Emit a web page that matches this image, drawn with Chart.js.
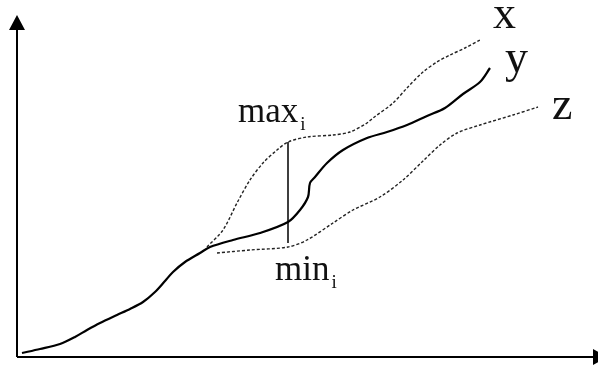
<!DOCTYPE html>
<html>
<head>
<meta charset="utf-8">
<script src="https://cdn.jsdelivr.net/npm/chart.js@4/dist/chart.umd.min.js"></script>
<style>
  html, body { margin: 0; padding: 0; background: #fff; }
  #wrap { width: 598px; height: 370px; }
</style>
</head>
<body>
<div id="wrap"><canvas id="bandChart" width="598" height="370"></canvas></div>
<script>
// values, origin at the corner of the axes
const yX = [5, 23, 43, 58, 70, 83, 100, 113, 126, 138, 148, 156, 168, 183, 193, 216, 243, 271, 283, 291, 293, 298, 310, 326, 350, 370, 390, 410, 428, 446, 463, 473];
const yY = [4, 8, 13, 20, 27, 34, 42, 48, 55, 65, 76, 85, 95, 104, 110, 117, 124, 135, 147, 160, 174, 180, 194, 207, 219, 225, 232, 241, 249, 263, 275, 289];

const upperX = [190, 206, 220, 233, 246, 260, 271, 290, 316, 333, 350, 356, 376, 390, 406, 420, 433, 448, 463];
const upperY = [110, 127, 154, 177, 194, 207, 215, 220, 222, 225, 234, 239, 254, 269, 285, 295, 302, 309, 317];

const lowerX = [200, 233, 271, 290, 316, 336, 363, 386, 406, 423, 440, 463, 496, 521];
const lowerY = [104, 107, 110, 117, 134, 147, 160, 177, 196, 212, 224, 232, 242, 250];

// the i-th step: max on the upper curve, min on the lower one
const stepX = 271;
const stepMax = 215;
const stepMin = 114;

// axis extents
const xAxisEnd = 591;
const yAxisEnd = 342;

const curveLabels = [
  { text: "x", x: 476, y: 329 },
  { text: "y", x: 488, y: 285 },
  { text: "z", x: 535, y: 238 },
];
const stepLabels = [
  { text: "max", sub: "i", x: 221, y: 235 },
  { text: "min", sub: "i", x: 258, y: 77 },
];

function toPoints(xs, ys) {
  return xs.map((x, i) => ({ x: x, y: ys[i] }));
}

const arrowPlugin = {
  id: "arrows",
  afterDatasetsDraw(chart) {
    const { ctx, scales } = chart;
    const x0 = scales.x.getPixelForValue(0);
    const y0 = scales.y.getPixelForValue(0);
    const xt = scales.x.getPixelForValue(xAxisEnd);
    const yt = scales.y.getPixelForValue(yAxisEnd);
    ctx.save();
    ctx.fillStyle = "#000";
    // arrow on y axis
    ctx.beginPath();
    ctx.moveTo(x0, yt);
    ctx.lineTo(x0 - 8, yt + 15);
    ctx.lineTo(x0 + 8, yt + 15);
    ctx.closePath();
    ctx.fill();
    // arrow on x axis
    ctx.beginPath();
    ctx.moveTo(xt, y0);
    ctx.lineTo(xt - 15, y0 - 8);
    ctx.lineTo(xt - 15, y0 + 8);
    ctx.closePath();
    ctx.fill();

    ctx.fillStyle = "#111";
    ctx.textBaseline = "alphabetic";
    ctx.textAlign = "left";
    ctx.font = '46px "Liberation Serif", "DejaVu Serif", serif';
    curveLabels.forEach((l) => {
      ctx.fillText(l.text, scales.x.getPixelForValue(l.x), scales.y.getPixelForValue(l.y));
    });
    stepLabels.forEach((l) => {
      const px = scales.x.getPixelForValue(l.x);
      const py = scales.y.getPixelForValue(l.y);
      ctx.font = '35px "Liberation Serif", "DejaVu Serif", serif';
      ctx.fillText(l.text, px, py);
      const w = ctx.measureText(l.text).width;
      ctx.font = '19px "Liberation Serif", "DejaVu Serif", serif';
      ctx.fillText(l.sub, px + w + 2, py + 8);
    });
    ctx.restore();
  },
};

const dotted = {
  borderColor: "#222",
  borderWidth: 1.4,
  borderDash: [3, 2],
  pointRadius: 0,
  showLine: true,
  tension: 0.3,
};

new Chart(document.getElementById("bandChart"), {
  type: "scatter",
  data: {
    datasets: [
      {
        label: "x axis",
        data: [{ x: 0, y: 0 }, { x: xAxisEnd - 10, y: 0 }],
        borderColor: "#000",
        borderWidth: 2,
        pointRadius: 0,
        showLine: true,
      },
      {
        label: "y axis",
        data: [{ x: 0, y: 0 }, { x: 0, y: yAxisEnd - 10 }],
        borderColor: "#000",
        borderWidth: 2,
        pointRadius: 0,
        showLine: true,
      },
      { label: "x", data: toPoints(upperX, upperY), ...dotted },
      { label: "z", data: toPoints(lowerX, lowerY), ...dotted },
      {
        label: "y",
        data: toPoints(yX, yY),
        borderColor: "#000",
        borderWidth: 2.2,
        pointRadius: 0,
        showLine: true,
        tension: 0.3,
      },
      {
        label: "step",
        data: [{ x: stepX, y: stepMax }, { x: stepX, y: stepMin }],
        borderColor: "#000",
        borderWidth: 1.5,
        pointRadius: 0,
        showLine: true,
      },
    ],
  },
  options: {
    responsive: false,
    animation: false,
    layout: { padding: 0 },
    scales: {
      x: { type: "linear", min: -17, max: 581, display: false },
      y: { type: "linear", min: -13, max: 357, display: false },
    },
    plugins: {
      legend: { display: false },
      tooltip: { enabled: false },
    },
  },
  plugins: [arrowPlugin],
});
</script>
</body>
</html>
